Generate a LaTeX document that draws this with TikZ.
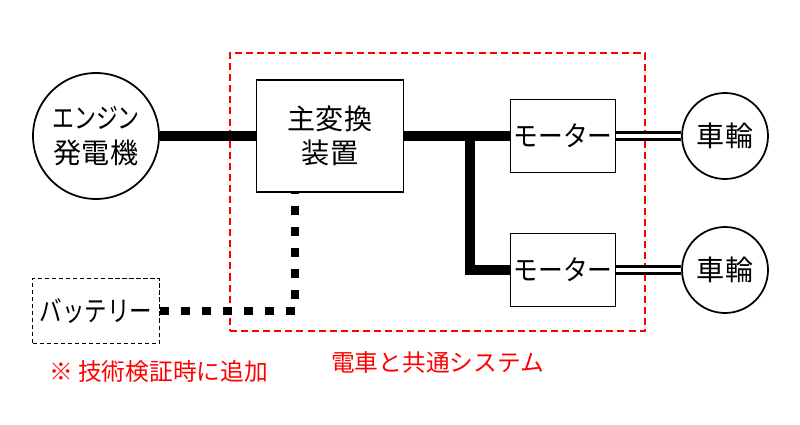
\documentclass[tikz,border=0pt]{standalone}
\usepackage{fontspec}
\usepackage{graphicx}
\setmainfont{Noto Sans CJK JP}
\usetikzlibrary{positioning}

% kana in the reference are set narrow
\newcommand{\narrow}[2]{\scalebox{#1}[1]{#2}}

\begin{document}
\begin{tikzpicture}[
  x=0.02cm, y=-0.02cm,
  every node/.style={font=\fontsize{16}{19.5}\selectfont, align=center},
  unit/.style={draw, line width=1pt, inner sep=0pt},
  rotor/.style={draw, circle, line width=1pt, inner sep=0pt},
  power/.style={line width=5.7pt},
  shaft/.style={double, line width=1.4pt, double distance=2.4pt},
  dotline/.style={line width=0.17cm, dash pattern=on 0.17cm off 0.25cm},
  sysframe/.style={draw=red, line width=1pt, dash pattern=on 4pt off 2.3pt},
  redtext/.style={text=red, font=\fontsize{13.5}{16}\selectfont}
]
\useasboundingbox (0,0) rectangle (800,425);

% Frame of the shared system first
\node[sysframe, minimum width=8.3cm, minimum height=5.56cm] (system) at (437.5,192) {};
\node[redtext, below=0.28cm of system] (system_label) {電車と共通システム};

% Generator and main converter
\node[rotor, minimum size=2.52cm] (engine) at (96,136) {\narrow{0.78}{エンジン}\\発電機};
\node[unit, minimum width=2.94cm, minimum height=2.24cm] (converter) at (330,136) {主変換\\装置};

% Motors and wheels
\node[unit, minimum width=2.1cm, minimum height=1.46cm] (motor_a) at (563,136) {\narrow{0.88}{モーター}};
\node[unit, minimum width=2.1cm, minimum height=1.46cm] (motor_b) at (563,270) {\narrow{0.88}{モーター}};
\node[rotor, minimum size=1.72cm] (wheel_a) at (725,136) {車輪};
\node[rotor, minimum size=1.72cm] (wheel_b) at (725,270) {車輪};

% Battery (dashed) and its note
\node[unit, dash pattern=on 2.5pt off 1.5pt, minimum width=2.54cm, minimum height=1.3cm] (battery) at (96,311) {\narrow{0.8}{バッテリー}};
\node[redtext, anchor=west] (note) at (43,372) {※ 技術検証時に追加};

% Power lines
\coordinate (branch) at (470,136);
\draw[power] (engine) -- (converter);
\draw[power] (converter) -- (motor_a);
\draw[power] (branch) |- (motor_b.west);

% Shafts to the wheels
\draw[shaft] (motor_a) -- (wheel_a);
\draw[shaft] (motor_b) -- (wheel_b);

% Battery link (dotted)
\draw[dotline] (battery.east) -| ([xshift=-0.7cm]converter.south);

\end{tikzpicture}
\end{document}
